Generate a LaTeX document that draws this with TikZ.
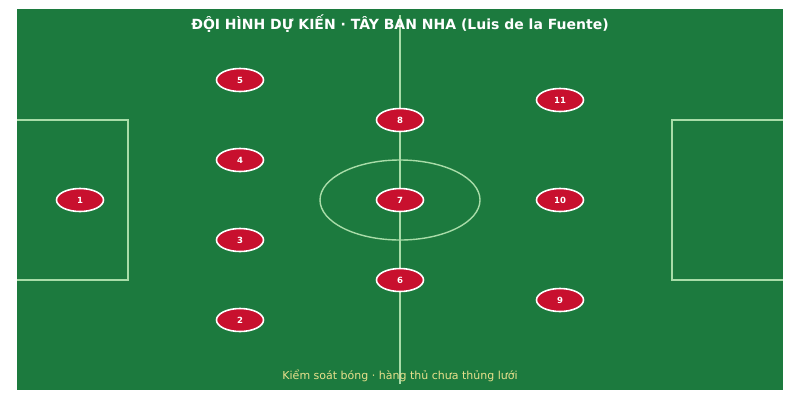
\documentclass[tikz,border=0pt]{standalone}
\usepackage{fontspec}
\setmainfont{DejaVu Sans}
\usetikzlibrary{shapes.geometric}
\definecolor{pitch}{HTML}{1C7A3E}
\definecolor{pline}{HTML}{A8DCA8}
\definecolor{shirt}{HTML}{C8102E}
\definecolor{note}{HTML}{E8E08C}
\tikzset{
  player/.style={ellipse, draw=white, line width=1.6pt, fill=shirt, minimum width=47pt, minimum height=23pt, inner sep=0pt, text=white, font=\bfseries\fontsize{8.5}{10}\selectfont},
  mark line/.style={draw=pline, line width=1.4pt}
}
\begin{document}
\begin{tikzpicture}[x=1pt,y=-1pt]
\useasboundingbox (0,0) rectangle (800,400);
\fill[white] (0,0) rectangle (800,400);
\fill[pitch] (17,9) rectangle (783,390);
\draw[mark line] (400,15) -- (400,384);
\draw[mark line] (400,200) ellipse [x radius=80, y radius=40];
\draw[mark line] (17,120) -- (128,120) -- (128,280) -- (17,280);
\draw[mark line] (783,120) -- (672,120) -- (672,280) -- (783,280);
\node[font=\bfseries\fontsize{14}{16}\selectfont, text=white] (title) at (400,24) {ĐỘI HÌNH DỰ KIẾN · TÂY BAN NHA (Luis de la Fuente)};
\node[font=\fontsize{11}{13}\selectfont, text=note] (sub) at (400,376) {Kiểm soát bóng · hàng thủ chưa thủng lưới};
\node[player] (p1) at (80,200) {1};
\node[player] (p5) at (240,80) {5};
\node[player] (p4) at (240,160) {4};
\node[player] (p3) at (240,240) {3};
\node[player] (p2) at (240,320) {2};
\node[player] (p8) at (400,120) {8};
\node[player] (p7) at (400,200) {7};
\node[player] (p6) at (400,280) {6};
\node[player] (p11) at (560,100) {11};
\node[player] (p10) at (560,200) {10};
\node[player] (p9) at (560,300) {9};
\end{tikzpicture}
\end{document}
